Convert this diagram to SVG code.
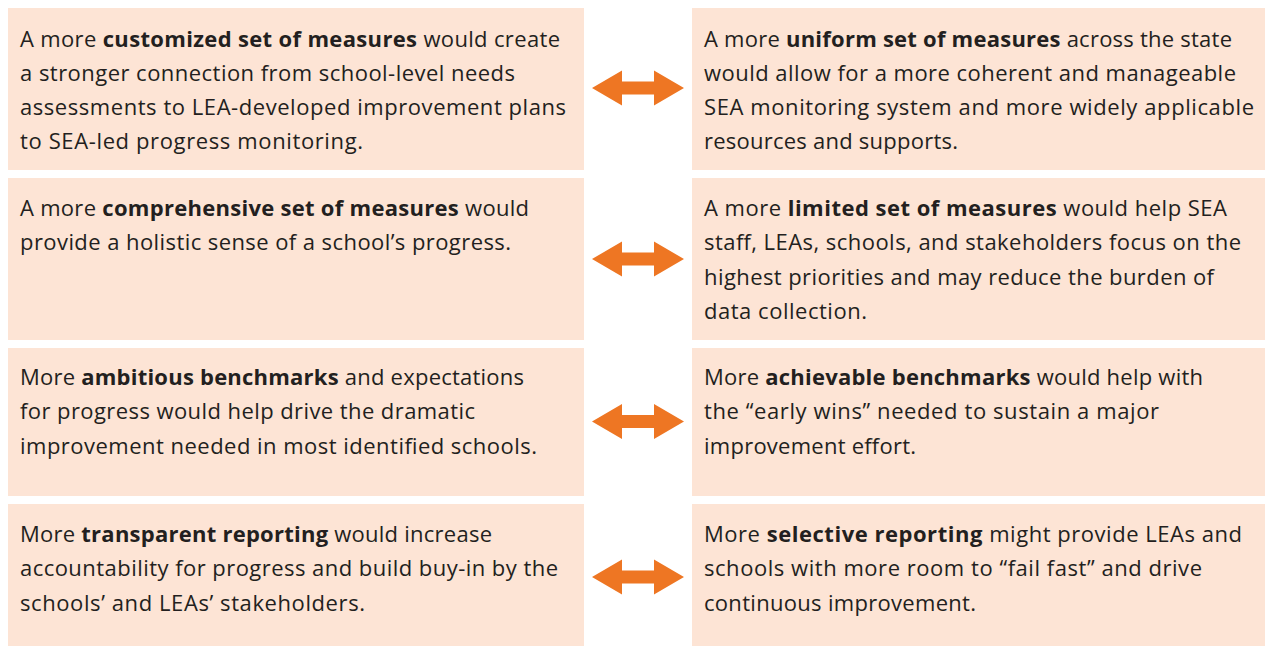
<svg xmlns="http://www.w3.org/2000/svg" width="1265" height="646" viewBox="0 0 1265 646">
<style>
.box{fill:#fde4d5}
text{font-family:"Open Sans","Noto Sans","Liberation Sans",sans-serif;font-size:22px;fill:#231f20}
.b{font-weight:bold}
.arr{fill:#ee7623}
</style>
<defs>
<path id="arrow" d="M-46,0 L-16,-17.5 L-16,-6.5 L16,-6.5 L16,-17.5 L46,0 L16,17.5 L16,6.5 L-16,6.5 L-16,17.5 Z"/>
</defs>
<rect width="1265" height="646" fill="#ffffff"/>
<g id="l1"><rect class="box" x="8" y="8" width="576" height="162"/>
<text x="20" y="46.5" textLength="540" lengthAdjust="spacing">A more <tspan class="b">customized set of measures</tspan> would create</text>
<text x="20" y="80.8" textLength="495" lengthAdjust="spacing">a stronger connection from school-level needs</text>
<text x="20" y="115.1" textLength="546" lengthAdjust="spacing">assessments to LEA-developed improvement plans</text>
<text x="20" y="149.4" textLength="343" lengthAdjust="spacing">to SEA-led progress monitoring.</text></g>
<g id="r1"><rect class="box" x="692" y="8" width="573" height="162"/>
<text x="704" y="46.5" textLength="528" lengthAdjust="spacing">A more <tspan class="b">uniform set of measures</tspan> across the state</text>
<text x="704" y="80.8" textLength="532" lengthAdjust="spacing">would allow for a more coherent and manageable</text>
<text x="704" y="115.1" textLength="550" lengthAdjust="spacing">SEA monitoring system and more widely applicable</text>
<text x="704" y="149.4" textLength="254" lengthAdjust="spacing">resources and supports.</text></g>
<g id="l2"><rect class="box" x="8" y="178" width="576" height="162"/>
<text x="20" y="216" textLength="509" lengthAdjust="spacing">A more <tspan class="b">comprehensive set of measures</tspan> would</text>
<text x="20" y="250.3" textLength="491" lengthAdjust="spacing">provide a holistic sense of a school’s progress.</text></g>
<g id="r2"><rect class="box" x="692" y="178" width="573" height="162"/>
<text x="704" y="216" textLength="523" lengthAdjust="spacing">A more <tspan class="b">limited set of measures</tspan> would help SEA</text>
<text x="704" y="250.3" textLength="537" lengthAdjust="spacing">staff, LEAs, schools, and stakeholders focus on the</text>
<text x="704" y="284.6" textLength="510" lengthAdjust="spacing">highest priorities and may reduce the burden of</text>
<text x="704" y="318.9" textLength="163" lengthAdjust="spacing">data collection.</text></g>
<g id="l3"><rect class="box" x="8" y="348" width="576" height="148"/>
<text x="20" y="385" textLength="504" lengthAdjust="spacing">More <tspan class="b">ambitious benchmarks</tspan> and expectations</text>
<text x="20" y="419.3" textLength="455" lengthAdjust="spacing">for progress would help drive the dramatic</text>
<text x="20" y="453.6" textLength="517" lengthAdjust="spacing">improvement needed in most identified schools.</text></g>
<g id="r3"><rect class="box" x="692" y="348" width="573" height="148"/>
<text x="704" y="385" textLength="499" lengthAdjust="spacing">More <tspan class="b">achievable benchmarks</tspan> would help with</text>
<text x="704" y="419.3" textLength="455" lengthAdjust="spacing">the “early wins” needed to sustain a major</text>
<text x="704" y="453.6" textLength="212" lengthAdjust="spacing">improvement effort.</text></g>
<g id="l4"><rect class="box" x="8" y="504" width="576" height="142"/>
<text x="20" y="542" textLength="472" lengthAdjust="spacing">More <tspan class="b">transparent reporting</tspan> would increase</text>
<text x="20" y="576.3" textLength="538" lengthAdjust="spacing">accountability for progress and build buy-in by the</text>
<text x="20" y="610.6" textLength="345" lengthAdjust="spacing">schools’ and LEAs’ stakeholders.</text></g>
<g id="r4"><rect class="box" x="692" y="504" width="573" height="142"/>
<text x="704" y="542" textLength="538" lengthAdjust="spacing">More <tspan class="b">selective reporting</tspan> might provide LEAs and</text>
<text x="704" y="576.3" textLength="498" lengthAdjust="spacing">schools with more room to “fail fast” and drive</text>
<text x="704" y="610.6" textLength="272" lengthAdjust="spacing">continuous improvement.</text></g>
<g id="connectors" class="arr">
<use href="#arrow" x="638" y="88"/>
<use href="#arrow" x="638" y="259"/>
<use href="#arrow" x="638" y="421.5"/>
<use href="#arrow" x="638" y="577"/>
</g>
</svg>
